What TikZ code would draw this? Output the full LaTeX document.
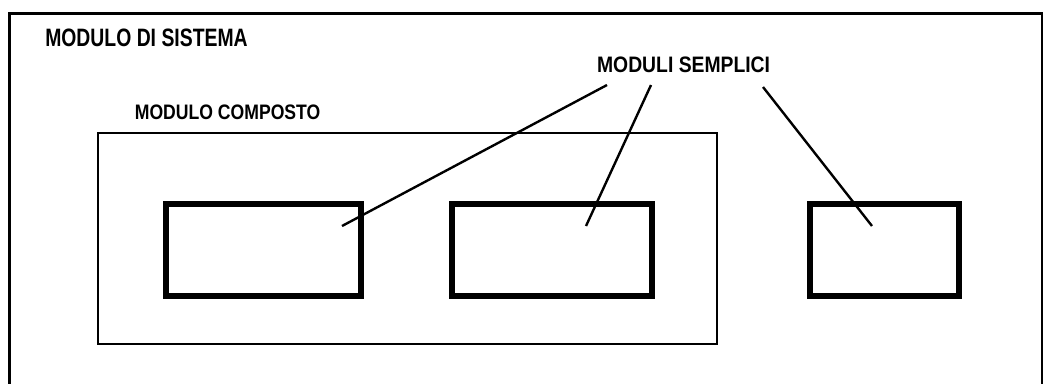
\documentclass[tikz,border=0pt]{standalone}
\usepackage{fontspec}
\setmainfont{Liberation Sans}
\usepackage{graphicx}
\usepackage{tikz}

\newcommand{\etichetta}[3]{\scalebox{#2}[1]{\fontsize{#1}{#1}\selectfont #3}}

\begin{document}
\begin{tikzpicture}[
  modulo/.style={draw=black, line width=4.3pt, minimum height=2.3cm, inner sep=0pt},
  composto/.style={draw=black, line width=1.4pt, inner sep=0pt},
  titolo/.style={font=\bfseries, text=black, inner sep=0pt},
  leader/.style={draw=black, line width=1.7pt},
]
  \useasboundingbox (0,0) rectangle (26.075,-9.575);

  % cornice del modulo di sistema
  \draw[line width=2pt] (0.23,-0.34) rectangle (26.05,-10.2);

  \node[composto, minimum width=15.475cm, minimum height=5.275cm] (comp) at (10.1875,-5.9625) {};

  \node[modulo, minimum width=4.875cm] (m1) at (6.5875,-6.25) {};
  \node[modulo, minimum width=5.0cm] (m2) at (13.8,-6.25) {};
  \node[modulo, minimum width=3.725cm] (m3) at (22.1125,-6.25) {};

  \node[titolo, anchor=west] (sistema) at (1.125,-0.95) {\etichetta{17.9}{0.77}{MODULO DI SISTEMA}};
  \node[titolo] (composto) at (5.69,-2.81) {\etichetta{14.9}{0.84}{MODULO COMPOSTO}};
  \node[titolo] (semplici) at (17.09,-1.625) {\etichetta{15.9}{0.865}{MODULI SEMPLICI}};

  \coordinate (s1) at (15.175,-2.125);
  \coordinate (s2) at (16.275,-2.125);
  \coordinate (s3) at (19.075,-2.175);
  \coordinate (e1) at (8.55,-5.65);
  \coordinate (e2) at (14.65,-5.65);
  \coordinate (e3) at (21.8,-5.65);

  \draw[leader] (s1) -- (e1);
  \draw[leader] (s2) -- (e2);
  \draw[leader] (s3) -- (e3);
\end{tikzpicture}
\end{document}
